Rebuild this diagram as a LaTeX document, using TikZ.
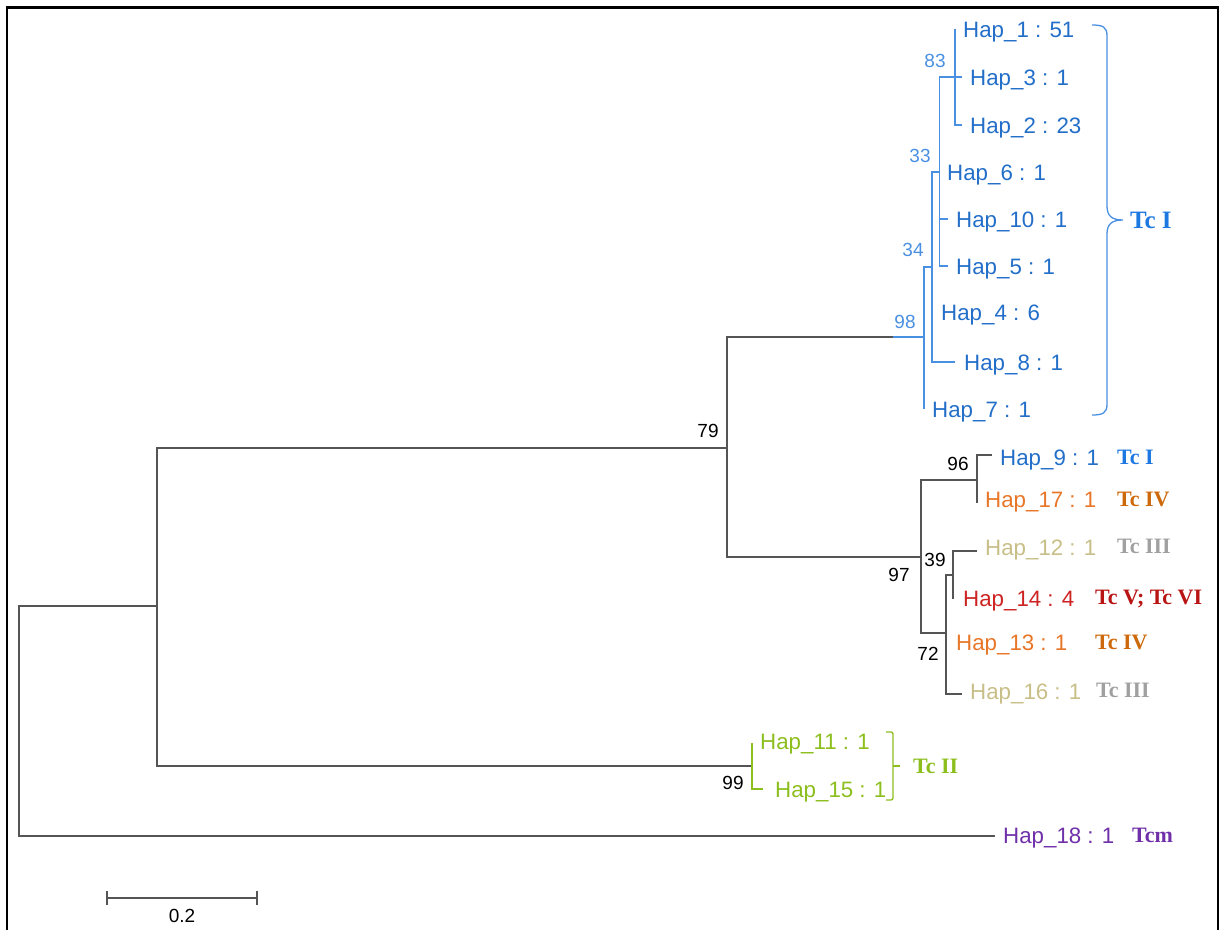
\documentclass[tikz,border=0pt]{standalone}
\usepackage{fontspec}
\setmainfont{Liberation Sans}
\newfontfamily\tmsfont{Liberation Serif}
\definecolor{branch}{RGB}{85,85,85}
\definecolor{tcblue}{RGB}{74,144,226}
\definecolor{hapblue}{RGB}{34,110,200}
\definecolor{taxblue}{RGB}{30,120,225}
\definecolor{hapora}{RGB}{232,118,40}
\definecolor{taxora}{RGB}{205,105,10}
\definecolor{hapbeige}{RGB}{200,190,135}
\definecolor{taxgray}{RGB}{160,160,160}
\definecolor{hapred}{RGB}{205,35,35}
\definecolor{taxred}{RGB}{185,20,20}
\definecolor{tcgreen}{RGB}{140,190,30}
\definecolor{tcpurple}{RGB}{112,48,170}
\tikzset{
  edge/.style={draw=branch,line width=1.4pt},
  bedge/.style={draw=tcblue,line width=1.4pt},
  gedge/.style={draw=tcgreen,line width=1.4pt},
  hap/.style={anchor=west,inner sep=0pt,text height=16pt,text depth=0pt,
    font=\fontsize{22.3}{26}\selectfont},
  tax/.style={anchor=west,inner sep=0pt,text height=15pt,text depth=0pt,
    font=\tmsfont\bfseries\fontsize{22}{26}\selectfont},
  boot/.style={inner sep=0pt,font=\fontsize{19}{22}\selectfont},
}
\begin{document}
\begin{tikzpicture}[x=1pt,y=-1pt]
\useasboundingbox (0,0) rectangle (1227,930);
% frame
\draw[line width=2.2pt,black] (7,930) -- (7,7.5) -- (1218,7.5) -- (1218,930);

% internal nodes
\coordinate (r)   at (19,721);
\coordinate (a)   at (157,606);
\coordinate (b)   at (727,448);
\coordinate (n98) at (924,337);
\coordinate (n98c) at (893,337);
\coordinate (n34) at (932,267);
\coordinate (n33) at (939.5,172);
\coordinate (n83) at (955,77);
\coordinate (n97) at (921,557);
\coordinate (n96) at (977,480);
\coordinate (n72) at (946,633);
\coordinate (n39) at (953,575);
\coordinate (n99) at (752,766);

% leaf tips
\coordinate (t1)  at (955,29);
\coordinate (t3)  at (962,77);
\coordinate (t2)  at (962,125);
\coordinate (t6)  at (939.5,172);
\coordinate (t10) at (948,219);
\coordinate (t5)  at (948,266);
\coordinate (t4)  at (932,312);
\coordinate (t8)  at (955,362);
\coordinate (t7)  at (924,409);
\coordinate (t9)  at (992,455);
\coordinate (t17) at (977,503);
\coordinate (t12) at (977,551);
\coordinate (t14) at (953,599);
\coordinate (t13) at (946,641);
\coordinate (t16) at (962,694);
\coordinate (t11) at (752,743);
\coordinate (t15) at (763,789);
\coordinate (t18) at (995,836);

% leaf labels
\node[hap,text=hapblue] (h1)  at (963,29)  {Hap\_1 : 51};
\node[hap,text=hapblue] (h3)  at (970,77)  {Hap\_3 : 1};
\node[hap,text=hapblue] (h2)  at (970,125) {Hap\_2 : 23};
\node[hap,text=hapblue] (h6)  at (947,172) {Hap\_6 : 1};
\node[hap,text=hapblue] (h10) at (956,219) {Hap\_10 : 1};
\node[hap,text=hapblue] (h5)  at (956,266) {Hap\_5 : 1};
\node[hap,text=hapblue] (h4)  at (941,312) {Hap\_4 : 6};
\node[hap,text=hapblue] (h8)  at (964,362) {Hap\_8 : 1};
\node[hap,text=hapblue] (h7)  at (932,409) {Hap\_7 : 1};
\node[hap,text=hapblue] (h9)  at (1000,457) {Hap\_9 : 1};
\node[hap,text=hapora]  (h17) at (985,499) {Hap\_17 : 1};
\node[hap,text=hapbeige](h12) at (985,547) {Hap\_12 : 1};
\node[hap,text=hapred]  (h14) at (963,598) {Hap\_14 : 4};
\node[hap,text=hapora]  (h13) at (956,642) {Hap\_13 : 1};
\node[hap,text=hapbeige](h16) at (970,691) {Hap\_16 : 1};
\node[hap,text=tcgreen] (h11) at (760,741) {Hap\_11 : 1};
\node[hap,text=tcgreen] (h15) at (775,789) {Hap\_15 : 1};
\node[hap,text=tcpurple](h18) at (1003,835) {Hap\_18 : 1};

% lineage labels
\node[tax,text=taxblue] (c9)  at (1117,457) {Tc I};
\node[tax,text=taxora]  (c17) at (1117,499) {Tc IV};
\node[tax,text=taxgray] (c12) at (1117,546) {Tc III};
\node[tax,text=taxred]  (c14) at (1095,597) {Tc V; Tc VI};
\node[tax,text=taxora]  (c13) at (1095,642) {Tc IV};
\node[tax,text=taxgray] (c16) at (1096,690) {Tc III};
\node[tax,text=tcgreen] (c2)  at (913,766) {Tc II};
\node[tax,text=tcpurple](cm)  at (1132,835) {Tcm};
\node[tax,text=taxblue,font=\tmsfont\bfseries\fontsize{25}{28}\selectfont,text height=16.5pt] (c1) at (1130,220) {Tc I};

% black branches
\draw[edge] (r) |- (a);
\draw[edge] (r) |- (t18);
\draw[edge] (a) |- (b);
\draw[edge] (a) |- (n99);
\draw[edge] (b) |- (n98c);
\draw[edge] (b) |- (n97);
\draw[edge] (n97) |- (n96);
\draw[edge] (n97) |- (n72);
\draw[edge] (n96) |- (t9);
\draw[edge] (n96) |- (t17);
\draw[edge] (n72) |- (n39);
\draw[edge] (n72) |- (t13);
\draw[edge] (n72) |- (t16);
\draw[edge] (n39) |- (t12);
\draw[edge] (n39) |- (t14);

% blue clade
\draw[bedge] (n98c) -- (n98);
\draw[bedge] (n98) |- (n34);
\draw[bedge] (n98) |- (t7);
\draw[bedge] (n34) |- (n33);
\draw[bedge] (n34) |- (t4);
\draw[bedge] (n34) |- (t8);
\draw[bedge] (n33) |- (n83);
\draw[bedge] (n33) |- (t6);
\draw[bedge] (n33) |- (t10);
\draw[bedge] (n33) |- (t5);
\draw[bedge] (n83) |- (t1);
\draw[bedge] (n83) |- (t3);
\draw[bedge] (n83) |- (t2);

% green clade
\draw[gedge] (n99) |- (t11);
\draw[gedge] (n99) |- (t15);

% support values
\node[boot,text=tcblue] (s83) at (935,61)  {83};
\node[boot,text=tcblue] (s33) at (920,156) {33};
\node[boot,text=tcblue] (s34) at (913,250) {34};
\node[boot,text=tcblue] (s98) at (905,322) {98};
\node[boot] (s79) at (708,431) {79};
\node[boot] (s96) at (958,464) {96};
\node[boot] (s39) at (935,560) {39};
\node[boot] (s97) at (899,575) {97};
\node[boot] (s72) at (928,654) {72};
\node[boot] (s99) at (733,783) {99};

% Tc I brace
\coordinate (bt) at (1092,25);
\coordinate (bm) at (1123,220);
\coordinate (bb) at (1092,415);
\draw[tcblue,line width=1.3pt] (bt) .. controls (1103,25) and (1107,27) .. (1107,36)
  -- (1107,206) .. controls (1107,216) and (1112,220) .. (bm)
  .. controls (1112,220) and (1107,224) .. (1107,234)
  -- (1107,404) .. controls (1107,413) and (1103,415) .. (bb);

% Tc II bracket
\coordinate (gt) at (886,732);
\coordinate (gm) at (900,766);
\coordinate (gb) at (886,800);
\draw[tcgreen,line width=1.3pt,rounded corners=2pt] (gt) -- (893,732) -- (893,800) -- (gb);
\draw[tcgreen,line width=1.3pt] (893,766) -- (gm);

% scale bar
\coordinate (sl) at (107,898);
\coordinate (sr) at (257,898);
\draw[edge] (sl) -- (sr);
\draw[edge] (107,891) -- (107,905);
\draw[edge] (257,891) -- (257,905);
\node[boot] (sb) at (182,916) {0.2};
\end{tikzpicture}
\end{document}
